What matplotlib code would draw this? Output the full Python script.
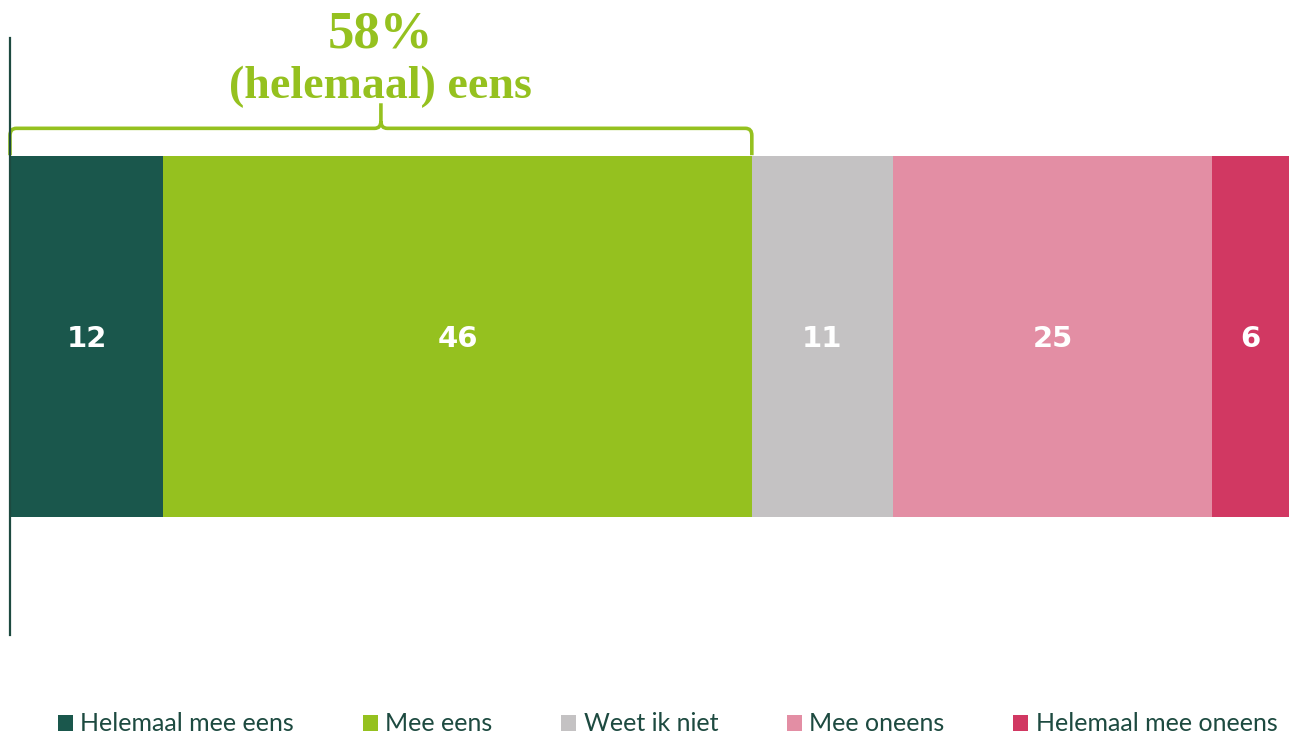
import matplotlib
matplotlib.use('Agg')
import matplotlib.pyplot as plt
from matplotlib.path import Path
from matplotlib.patches import PathPatch

categories = ['Helemaal mee eens', 'Mee eens', 'Weet ik niet', 'Mee oneens', 'Helemaal mee oneens']
values = [12, 46, 11, 25, 6]
colors = ['#1a574c', '#95c11f', '#c4c2c3', '#e38ea4', '#d13862']
agree_total = 58
agree_label = '(helemaal) eens'

GREEN = '#95c11f'
DARK = '#1d4a40'

fig = plt.figure(figsize=(12.89, 7.35), dpi=100)
ax = fig.add_axes([10 / 1289, 0.136, 1 - 10 / 1289, 0.812])

left = 0
bars = []
for cat, val, col in zip(categories, values, colors):
    b = ax.barh(0, val, left=left, height=0.605, color=col, label=cat)
    bars.append(b)
    ax.text(left + val / 2, -0.004, str(val), ha='center', va='center',
            color='white', fontsize=21, fontweight='bold', family='DejaVu Sans')
    left += val

ax.set_xlim(0, sum(values))
ax.set_ylim(-0.5, 0.5)
for s in ['top', 'right', 'bottom']:
    ax.spines[s].set_visible(False)
ax.spines['left'].set_color(DARK)
ax.spines['left'].set_linewidth(1.6)
ax.set_xticks([])
ax.set_yticks([])

# brace over the agree segments
x0, x1 = 0, agree_total
xm = (x0 + x1) / 2
yb, yh, yt = 0.304, 0.349, 0.391
rx, ry = 0.5, 0.012
verts = [(x0, yb), (x0, yh - ry), (x0, yh), (x0 + rx, yh), (xm - rx, yh),
         (xm, yh), (xm, yh + ry), (xm, yt),
         (xm, yh + ry), (xm, yh), (xm + rx, yh), (x1 - rx, yh),
         (x1, yh), (x1, yh - ry), (x1, yb)]
codes = [Path.MOVETO, Path.LINETO, Path.CURVE3, Path.CURVE3, Path.LINETO,
         Path.CURVE3, Path.CURVE3, Path.LINETO,
         Path.MOVETO, Path.CURVE3, Path.CURVE3, Path.LINETO,
         Path.CURVE3, Path.CURVE3, Path.LINETO]
ax.add_patch(PathPatch(Path(verts, codes), facecolor='none', edgecolor=GREEN,
                       lw=2.6, clip_on=False, capstyle='butt'))

ax.text(xm, 0.485, f'{agree_total}%', ha='center', va='baseline', color=GREEN,
        fontsize=38, fontweight='bold', family='Liberation Serif', clip_on=False)
ax.text(xm, 0.3995, agree_label, ha='center', va='baseline', color=GREEN,
        fontsize=33, fontweight='bold', family='Liberation Serif', clip_on=False)

fig.legend(handles=bars, labels=categories, loc='center', ncol=5,
           bbox_to_anchor=(0.518, 0.015), frameon=False,
           prop={'family': 'Lato', 'size': 18}, labelcolor=DARK,
           handlelength=0.6, handleheight=0.6, handletextpad=0.3,
           columnspacing=2.75, borderpad=0, borderaxespad=0)

fig.savefig('out.png', dpi=100)
